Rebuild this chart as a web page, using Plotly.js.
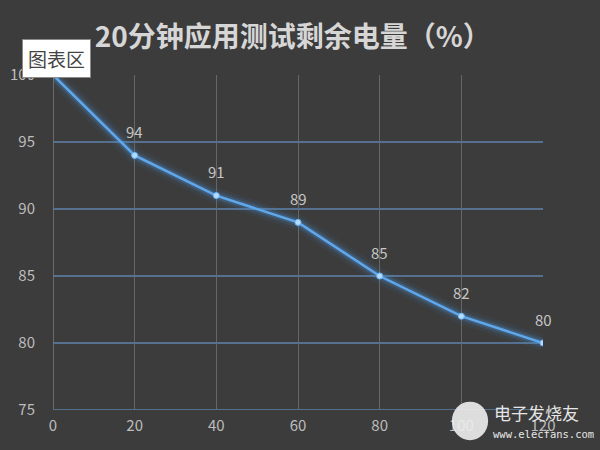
<!DOCTYPE html>
<html>
<head>
<meta charset="utf-8">
<script src="https://cdn.plot.ly/plotly-3.0.1.min.js"></script>
<style>html,body{margin:0;padding:0;background:#3c3c3c;}#chart{width:600px;height:450px;}</style>
</head>
<body>
<div id="chart"></div>
<script>
const minutes = [0, 20, 40, 60, 80, 100, 120];
const battery = [100, 94, 91, 89, 85, 82, 80];
const labelShown = [false, true, true, true, true, true, true];
const titleText = '20分钟应用测试剩余电量（%）';

const font = '"Noto Sans CJK SC", "Open Sans", sans-serif';
const glow = [
  {w: 16, o: 0.07},
  {w: 10, o: 0.13},
  {w: 6, o: 0.25}
].map(g => ({
  x: minutes, y: battery, type: 'scatter', mode: 'lines',
  line: {color: '#4a90d9', width: g.w}, opacity: g.o,
  hoverinfo: 'skip', showlegend: false
}));

const main = {
  x: minutes, y: battery, type: 'scatter', mode: 'lines+markers',
  line: {color: '#5fa8ec', width: 2.5},
  marker: {color: '#b5dcff', size: 6, line: {color: '#6ab4f5', width: 1}},
  showlegend: false
};

const annotations = minutes.map((m, i) => labelShown[i] ? ({
  x: m, y: battery[i], xref: 'x', yref: 'y', text: String(battery[i]),
  showarrow: false, yshift: 24, font: {family: font, size: 15, color: '#c6c6c6'}
}) : null).filter(a => a);

annotations.push({
  xref: 'paper', yref: 'paper', x: -0.063, y: 1.108, xanchor: 'left', yanchor: 'top',
  text: '图表区', showarrow: false, bgcolor: '#ffffff', bordercolor: '#8a8a8a', borderwidth: 1,
  borderpad: 5, font: {family: font, size: 19, color: '#444444'}
});
annotations.push({
  xref: 'paper', yref: 'paper', x: 0.986, y: -0.006, xanchor: 'center', yanchor: 'middle',
  text: '电子发烧友', showarrow: false, font: {family: font, size: 17, color: '#e6e6e6'}
});
annotations.push({
  xref: 'paper', yref: 'paper', x: 1.0, y: -0.072, xanchor: 'center', yanchor: 'middle',
  text: 'www.elecfans.com', showarrow: false, font: {family: 'DejaVu Sans Mono, monospace', size: 10.5, color: '#e6e6e6'}
});

const layout = {
  width: 600, height: 450,
  paper_bgcolor: '#3c3c3c', plot_bgcolor: '#3c3c3c',
  margin: {l: 53, r: 57, t: 75, b: 40},
  title: {text: '<b>' + titleText + '</b>', x: 0.488, xanchor: 'center', y: 0.918, yanchor: 'middle',
    font: {family: font, size: 28, color: '#d6d6d6'}},
  xaxis: {range: [0, 120], tickvals: minutes, showgrid: true, gridcolor: '#666666', gridwidth: 1,
    zeroline: false, showline: false, ticks: '', ticklabelstandoff: 5,
    tickfont: {family: font, size: 15, color: '#bdbdbd'}, fixedrange: true},
  yaxis: {range: [75, 100], dtick: 5, showgrid: true, gridcolor: '#56718f', gridwidth: 1.5,
    zeroline: false, showline: false, ticks: '', ticklabelstandoff: 17,
    tickfont: {family: font, size: 15, color: '#bdbdbd'}, fixedrange: true},
  shapes: [
    {type: 'line', xref: 'x', yref: 'paper', x0: 0, x1: 0, y0: 0, y1: 1, line: {color: '#7a7a7a', width: 1.5}},
    {type: 'line', xref: 'paper', yref: 'y', x0: 0, x1: 1, y0: 75, y1: 75, line: {color: '#56718f', width: 2}},
    {type: 'circle', xref: 'paper', yref: 'paper', x0: 0.814, x1: 0.888, y0: -0.09, y1: 0.025, fillcolor: '#eeeeee', line: {width: 0}, opacity: 0.9}
  ],
  annotations: annotations,
  showlegend: false
};

Plotly.newPlot('chart', glow.concat([main]), layout, {displayModeBar: false, staticPlot: true});
</script>
</body>
</html>
